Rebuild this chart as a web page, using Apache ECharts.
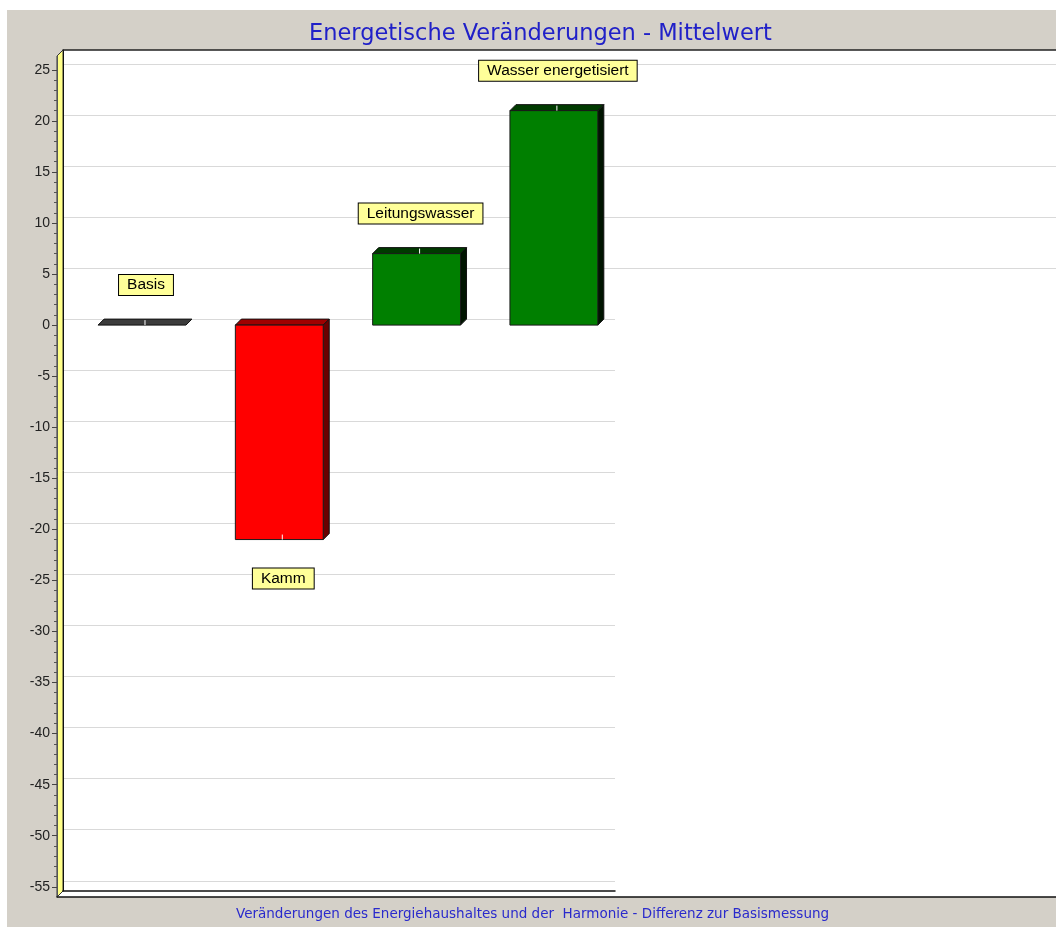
<!DOCTYPE html>
<html>
<head>
<meta charset="utf-8">
<script src="https://cdn.jsdelivr.net/npm/echarts@6/dist/echarts.min.js"></script>
<style>
html,body{margin:0;padding:0;background:#fff;}
#chart{width:1056px;height:927px;}
</style>
</head>
<body>
<div id="chart"></div>
<script>
// ---- data ----
const categories = ['Basis', 'Kamm', 'Leitungswasser', 'Wasser energetisiert'];
const values = [0, -21, 7, 21];
const yTicks = [-55, -50, -45, -40, -35, -30, -25, -20, -15, -10, -5, 0, 5, 10, 15, 20, 25];
const titleText = 'Energetische Veränderungen - Mittelwert';
const subtitleText = 'Veränderungen des Energiehaushaltes und der  Harmonie - Differenz zur Basismessung';

// ---- styles ----
const palette = [
  { front: '#3c3c3c', top: '#3c3c3c', side: '#2a2a2a' },
  { front: '#ff0000', top: '#a00000', side: '#6a0000' },
  { front: '#007f00', top: '#003a00', side: '#001400' },
  { front: '#007f00', top: '#003a00', side: '#001400' }
];
const yMin = -56, yMax = 26.35;
const xMin = -0.619, xMax = 6.613;
const DEPTH = 6;
const TITLE_FONT = 22.5, SUB_FONT = 13.5;
const FONT_FAMILY = '"DejaVu Sans", sans-serif';

function textWidth(txt, size) {
  const c = document.createElement('canvas').getContext('2d');
  c.font = size + 'px ' + FONT_FAMILY;
  return c.measureText(txt).width;
}

const minorTicks = [];
for (let k = 0; k < yTicks.length - 1; k++) {
  for (let m = yTicks[k] + 1; m < yTicks[k + 1]; m++) minorTicks.push(m);
}
const upperTicks = yTicks.filter(v => v > 0);
const lowerTicks = yTicks.filter(v => v <= 0);

const chart = echarts.init(document.getElementById('chart'), null, { renderer: 'canvas' });

const barData = values.map((v, i) => [i, v]);

function renderItem(params, api) {
  const i = api.value(0), v = api.value(1);
  const p0 = api.coord([i, 0]);
  const p1 = api.coord([i, v]);
  const w = api.size([1, 0])[0] * 0.64;
  const cx = p0[0];
  const x0 = cx - w / 2, x1 = cx + w / 2;
  const yTop = Math.min(p0[1], p1[1]);
  const yBot = Math.max(p0[1], p1[1]);
  const d = DEPTH;
  const pal = palette[params.dataIndex];
  const children = [];
  children.push({
    type: 'polygon',
    shape: { points: [[x0, yTop], [x0 + d, yTop - d], [x1 + d, yTop - d], [x1, yTop]] },
    style: { fill: pal.top, stroke: '#111', lineWidth: 1 }
  });
  if (yBot - yTop > 0.5) {
    children.push({
      type: 'polygon',
      shape: { points: [[x1, yTop], [x1 + d, yTop - d], [x1 + d, yBot - d], [x1, yBot]] },
      style: { fill: pal.side, stroke: '#111', lineWidth: 1 }
    });
    children.push({
      type: 'rect',
      shape: { x: x0, y: yTop, width: w, height: yBot - yTop },
      style: { fill: pal.front, stroke: '#1a1a1a', lineWidth: 1 }
    });
  }
  children.push({
    type: 'line',
    shape: { x1: cx + 3, y1: p1[1], x2: cx + 3, y2: p1[1] - 5 },
    style: { stroke: '#ffffff', lineWidth: 1 }
  });
  const ly = v >= 0 ? p1[1] - 40 : p1[1] + 39;
  children.push({
    type: 'text',
    z2: 100,
    style: {
      text: categories[params.dataIndex],
      x: cx + 4, y: ly,
      align: 'center', verticalAlign: 'middle',
      fill: '#000',
      font: '15.5px "Liberation Sans", Arial, sans-serif',
      backgroundColor: '#ffff99',
      borderColor: '#000',
      borderWidth: 1,
      padding: [2, 8, 1, 8],
      lineHeight: 17
    }
  });
  return { type: 'group', children };
}

const option = {
  backgroundColor: '#ffffff',
  animation: false,
  title: [
    {
      text: titleText,
      left: Math.round(540 - textWidth(titleText, TITLE_FONT) / 2),
      top: 23,
      padding: 0,
      textStyle: { color: '#2020c8', fontSize: TITLE_FONT, fontWeight: 'normal', fontFamily: FONT_FAMILY }
    },
    {
      text: subtitleText,
      left: Math.round(533 - textWidth(subtitleText, SUB_FONT) / 2),
      top: 907,
      padding: 0,
      textStyle: { color: '#2a2acc', fontSize: SUB_FONT, fontWeight: 'normal', fontFamily: FONT_FAMILY }
    }
  ],
  graphic: [
    { type: 'rect', z: -10, silent: true, shape: { x: 7, y: 10, width: 1049, height: 917 }, style: { fill: '#d4d0c8' } },
    { type: 'polygon', z: -9, silent: true, shape: { points: [[63, 50], [1056, 50], [1056, 897], [57, 897], [57, 56]] }, style: { fill: '#ffffff' } },
    { type: 'polygon', z: -8, silent: true, shape: { points: [[57, 56], [63, 50], [63, 891], [57, 897]] }, style: { fill: '#ffff88', stroke: '#333', lineWidth: 1 } }
  ],
  grid: [
    { left: 63, right: 0, top: 50, bottom: 36 },
    { left: 63, width: 552, top: 50, bottom: 36 },
    { left: 57, right: 0, top: 56, bottom: 30 }
  ],
  xAxis: [
    { type: 'value', gridIndex: 0, position: 'top', min: 0, max: 1,
      axisLine: { show: true, onZero: false, lineStyle: { color: '#222', width: 1.5 } },
      axisTick: { show: false }, axisLabel: { show: false }, splitLine: { show: false } },
    { type: 'value', gridIndex: 1, position: 'bottom', min: 0, max: 1,
      axisLine: { show: true, onZero: false, lineStyle: { color: '#111', width: 1.5 } },
      axisTick: { show: false }, axisLabel: { show: false }, splitLine: { show: false } },
    { type: 'value', gridIndex: 2, position: 'bottom', min: xMin, max: xMin + (1056 - 57) / 137.3,
      axisLine: { show: true, onZero: false, lineStyle: { color: '#111', width: 1.5 } },
      axisTick: { show: false }, axisLabel: { show: false }, splitLine: { show: false } }
  ],
  yAxis: [
    { type: 'value', gridIndex: 0, min: yMin, max: yMax,
      axisLine: { show: true, onZero: false, lineStyle: { color: '#111' } },
      axisTick: { show: false, customValues: upperTicks },
      axisLabel: { show: false },
      splitLine: { show: true, lineStyle: { color: '#d9d9d9', width: 1 } } },
    { type: 'value', gridIndex: 1, min: yMin, max: yMax,
      axisLine: { show: false, onZero: false },
      axisTick: { show: false, customValues: lowerTicks },
      axisLabel: { show: false },
      splitLine: { show: true, lineStyle: { color: '#d9d9d9', width: 1 } } },
    { type: 'value', gridIndex: 2, min: yMin, max: yMax, position: 'left',
      axisLine: { show: true, onZero: false, lineStyle: { color: '#555' } },
      axisTick: { show: true, length: 5, customValues: yTicks, lineStyle: { color: '#444' } },
      axisLabel: { show: true, customValues: yTicks, margin: 7, color: '#222', fontSize: 14,
        fontFamily: '"Liberation Sans", Arial, sans-serif' },
      splitLine: { show: false } },
    { type: 'value', gridIndex: 2, min: yMin, max: yMax, position: 'left',
      axisLine: { show: false, onZero: false },
      axisTick: { show: true, length: 3, customValues: minorTicks, lineStyle: { color: '#555' } },
      axisLabel: { show: false },
      splitLine: { show: false } }
  ],
  series: [
    {
      type: 'custom',
      xAxisIndex: 2,
      yAxisIndex: 2,
      clip: false,
      z: 10,
      data: barData,
      renderItem: renderItem
    }
  ]
};
chart.setOption(option);
</script>
</body>
</html>
